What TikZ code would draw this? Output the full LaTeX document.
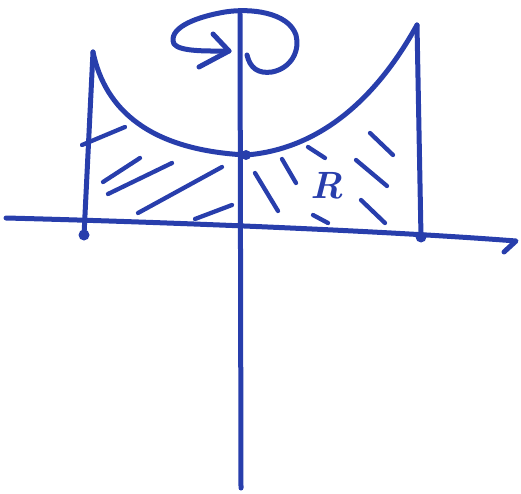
\documentclass[tikz,border=0pt]{standalone}
\begin{document}
\begin{tikzpicture}[x=1pt,y=-1pt,
  pen/.style={draw=inkblue,line width=5pt,line cap=round,line join=round},
  hatch/.style={draw=inkblue,line width=4.3pt,line cap=round},
  dotmark/.style={fill=inkblue}]
\definecolor{inkblue}{RGB}{40,62,172}
\useasboundingbox (0,0) rectangle (521,494);
% key points
\coordinate (ytop) at (240,14);
\coordinate (ybot) at (241,488);
\coordinate (xl) at (6,218);
\coordinate (xr) at (516,241);
\coordinate (xtick) at (504,252);
\coordinate (lt) at (93,52);
\coordinate (lb) at (84,235);
\coordinate (rt) at (417,25);
\coordinate (rb) at (421,237);
\coordinate (mid) at (246,155);
% axes
\draw[pen] (ytop) -- (ybot);
\draw[pen] (xl) .. controls (200,223) and (400,232) .. (xr) -- (xtick);
% walls
\draw[pen] (lt) -- (lb);
\draw[pen] (rt) -- (rb);
\fill[dotmark] (lb) circle (5.5);
\fill[dotmark] (rb) circle (5.5);
\fill[dotmark] (mid) circle (5);
% curve
\draw[pen] (lt) .. controls (105,110) and (150,150) .. (mid)
  .. controls (310,150) and (370,110) .. (rt);
% rotation arrow
\coordinate (rs) at (247,55);
\coordinate (rtip) at (229,51);
\draw[pen] (rs) .. controls (250,68) and (258,74) .. (272,72)
  .. controls (292,68) and (300,50) .. (296,35)
  .. controls (288,12) and (250,8) .. (225,12)
  .. controls (190,18) and (168,30) .. (174,44)
  .. controls (180,52) and (210,51) .. (rtip);
\draw[pen] (213,34) -- (rtip) -- (199,67);
% left hatching
\draw[hatch] (82,145) -- (125,127);
\draw[hatch] (103,182) -- (140,158);
\draw[hatch] (108,194) -- (172,163);
\draw[hatch] (138,213) -- (222,167);
\draw[hatch] (195,219) -- (232,205);
% right hatching
\draw[hatch] (255,173) -- (278,211);
\draw[hatch] (282,159) -- (296,183);
\draw[hatch] (308,147) -- (325,158);
\draw[hatch] (313,215) -- (328,223);
\draw[hatch] (356,160) -- (387,186);
\draw[hatch] (370,133) -- (393,155);
\draw[hatch] (361,200) -- (385,223);
\node[text=inkblue,font=\fontsize{38}{38}\selectfont\itshape\bfseries] (R) at (327,186) {R};
\end{tikzpicture}
\end{document}
